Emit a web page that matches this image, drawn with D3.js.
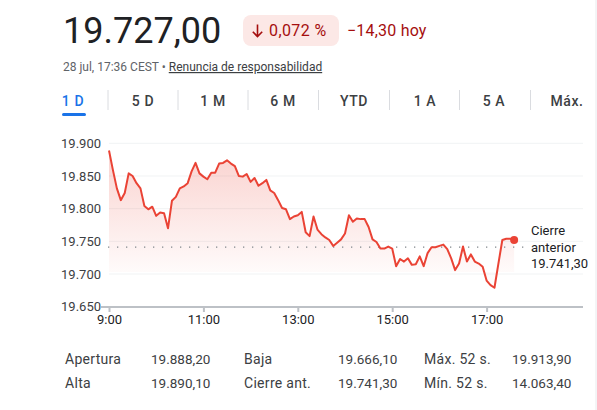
<!DOCTYPE html>
<html>
<head>
<meta charset="utf-8">
<script src="https://cdn.jsdelivr.net/npm/d3@7"></script>
<style>
	body { margin: 0; background: #fff; }
	svg { display: block; font-family: Roboto, "Noto Sans", Arial, sans-serif; }
</style>
</head>
<body>
<div id="chart"></div>
<script>
// quote header
var lastPrice = 19727.00;
var changePct = -0.072;
var changeAbs = -14.30;
var stampText = '28 jul, 17:36 CEST';
var disclaimerText = 'Renuncia de responsabilidad';

// range tabs
var tabLabels = ['1 D', '5 D', '1 M', '6 M', 'YTD', '1 A', '5 A', 'Máx.'];
var tabCenters = [73, 143, 213, 283, 354, 425, 494, 567];

// intraday series, one point every 5 minutes from 9:00
var startTime = '09:00';
var stepMinutes = 5;
var prices = [19889, 19859, 19831, 19813, 19824, 19854, 19850, 19839, 19831, 19804,
	19799, 19803, 19789, 19794, 19793, 19770, 19812, 19818, 19831, 19834,
	19839, 19857, 19870, 19854, 19849, 19845, 19855, 19855, 19869, 19870,
	19874, 19869, 19865, 19850, 19849, 19853, 19841, 19847, 19835, 19839,
	19844, 19828, 19824, 19813, 19801, 19799, 19784, 19788, 19790, 19795,
	19764, 19758, 19788, 19768, 19761, 19756, 19752, 19743, 19748, 19753,
	19762, 19790, 19780, 19785, 19784, 19784, 19772, 19753, 19749, 19739,
	19739, 19742, 19739, 19712, 19723, 19719, 19724, 19714, 19715, 19727,
	19712, 19732, 19741, 19741, 19743, 19745, 19738, 19724, 19706, 19716,
	19742, 19719, 19730, 19719, 19716, 19711, 19690, 19683, 19679, 19716,
	19752, 19754, 19754, 19752];
var prevClose = 19741.30;

// axes
var yTicks = [19650, 19700, 19750, 19800, 19850, 19900];
var xTickLabels = ['09:00', '11:00', '13:00', '15:00', '17:00'];
var xDomain = ['09:00', '19:00'];

// stats table
var statLabels = [['Apertura', 'Alta'], ['Baja', 'Cierre ant.'], ['Máx. 52 s.', 'Mín. 52 s.']];
var statValues = [[19888.20, 19890.10], [19666.10, 19741.30], [19913.90, 14063.40]];

var es = d3.formatLocale({decimal: ',', thousands: '.', grouping: [3], currency: ['', ' €']});
var fmtInt = es.format(',.0f');
var fmt2 = es.format(',.2f');
var fmt3 = es.format('.3f');
var parseT = d3.timeParse('%H:%M');

var W = 597, H = 410;
var svg = d3.select('#chart').append('svg')
	.attr('width', W)
	.attr('height', H);

// header
svg.append('text')
	.attr('x', 63).attr('y', 43)
	.attr('font-size', '36px')
	.attr('fill', '#202124')
	.text(fmt2(lastPrice));

svg.append('rect')
	.attr('x', 243).attr('y', 15)
	.attr('width', 96).attr('height', 31)
	.attr('rx', 8)
	.attr('fill', '#fce8e6');

// down arrow icon
svg.append('path')
	.attr('d', 'M257.5,24.5 V36.5 M252.8,31.8 L257.5,36.5 L262.2,31.8')
	.attr('fill', 'none')
	.attr('stroke', '#a50e0e')
	.attr('stroke-width', 1.6);

svg.append('text')
	.attr('x', 269).attr('y', 36)
	.attr('font-size', '16px')
	.attr('letter-spacing', '0.4px')
	.attr('fill', '#a50e0e')
	.text(fmt3(Math.abs(changePct)) + ' %');

svg.append('text')
	.attr('x', 347).attr('y', 36)
	.attr('font-size', '16px')
	.attr('letter-spacing', '0.2px')
	.attr('fill', '#a50e0e')
	.text('\u2212' + fmt2(Math.abs(changeAbs)) + ' hoy');

var stamp = svg.append('text')
	.attr('x', 63).attr('y', 71)
	.attr('font-size', '12px')
	.attr('fill', '#5f6368');
stamp.append('tspan').text(stampText + ' \u2022 ');
stamp.append('tspan')
	.attr('fill', '#3c4043')
	.attr('text-decoration', 'underline')
	.text(disclaimerText);

// tabs
svg.selectAll('.tab')
	.data(tabLabels)
	.enter()
	.append('text')
	.attr('class', 'tab')
	.attr('x', function (d, i) { return tabCenters[i]; })
	.attr('y', 106)
	.attr('text-anchor', 'middle')
	.attr('font-size', '14px')
	.attr('font-weight', '500')
	.attr('letter-spacing', '0.6px')
	.attr('fill', function (d, i) { return i === 0 ? '#1a73e8' : '#3c4043'; })
	.text(function (d) { return d; });

svg.selectAll('.divider')
	.data(tabCenters.slice(1))
	.enter()
	.append('line')
	.attr('x1', function (d, i) { return (tabCenters[i] + d) / 2; })
	.attr('x2', function (d, i) { return (tabCenters[i] + d) / 2; })
	.attr('y1', 90).attr('y2', 110)
	.attr('stroke', '#dadce0')
	.attr('stroke-width', 1);

svg.append('rect')
	.attr('x', 62).attr('y', 113)
	.attr('width', 24).attr('height', 3)
	.attr('rx', 1.5)
	.attr('fill', '#1a73e8');

// chart scales
var x = d3.scaleTime()
	.domain(xDomain.map(parseT))
	.range([109, 581]);
var y = d3.scaleLinear()
	.domain([19650, 19900])
	.range([306.7, 143.3]);

var t0 = parseT(startTime);
var series = prices.map(function (v, i) {
	return {t: d3.timeMinute.offset(t0, i * stepMinutes), v: v};
});

// gridlines
svg.append('g')
	.selectAll('line')
	.data(yTicks.slice(1))
	.enter()
	.append('line')
	.attr('x1', 109).attr('x2', 583)
	.attr('y1', function (d) { return y(d); })
	.attr('y2', function (d) { return y(d); })
	.attr('stroke', '#f1f3f4')
	.attr('stroke-width', 1);

// y labels
var yAxis = svg.append('g')
	.attr('transform', 'translate(101,0)')
	.call(d3.axisLeft(y).tickValues(yTicks).tickSize(0).tickPadding(0).tickFormat(fmtInt));
yAxis.select('.domain').remove();
yAxis.selectAll('text')
	.attr('font-family', 'Roboto, sans-serif')
	.attr('font-size', '13px')
	.attr('fill', '#3c4043');

// area gradient
var grad = svg.append('defs').append('linearGradient')
	.attr('id', 'fillGrad')
	.attr('gradientUnits', 'userSpaceOnUse')
	.attr('x1', 0).attr('x2', 0)
	.attr('y1', y(19900)).attr('y2', y(19700));
grad.append('stop').attr('offset', '0%').attr('stop-color', '#ea4335').attr('stop-opacity', 0.25);
grad.append('stop').attr('offset', '100%').attr('stop-color', '#ea4335').attr('stop-opacity', 0.02);

var area = d3.area()
	.x(function (d) { return x(d.t); })
	.y0(y(19700) - 2)
	.y1(function (d) { return y(d.v); });

svg.append('path')
	.attr('d', area(series))
	.attr('fill', 'url(#fillGrad)');

// previous close reference
svg.append('line')
	.attr('x1', 108).attr('x2', 524)
	.attr('y1', y(prevClose)).attr('y2', y(prevClose))
	.attr('stroke', '#80868b')
	.attr('stroke-width', 1.3)
	.attr('stroke-dasharray', '1.3,7.7');

var line = d3.line()
	.x(function (d) { return x(d.t); })
	.y(function (d) { return y(d.v); });

svg.append('path')
	.attr('d', line(series))
	.attr('fill', 'none')
	.attr('stroke', '#ea4335')
	.attr('stroke-width', 2)
	.attr('stroke-linejoin', 'round');

var last = series[series.length - 1];
svg.append('circle')
	.attr('cx', x(last.t))
	.attr('cy', y(last.v))
	.attr('r', 4)
	.attr('fill', '#ea4335');

var prevLabel = svg.append('text')
	.attr('x', 531)
	.attr('font-size', '13px')
	.attr('fill', '#202124');
['Cierre', 'anterior', fmt2(prevClose)].forEach(function (s, i) {
	prevLabel.append('tspan')
		.attr('x', 531)
		.attr('y', 235 + i * 16.5)
		.text(s);
});

// x axis
var xAxis = svg.append('g')
	.attr('transform', 'translate(0,307)')
	.call(d3.axisBottom(x)
		.tickValues(xTickLabels.map(parseT))
		.tickSize(5)
		.tickPadding(3)
		.tickFormat(d3.timeFormat('%-H:%M')));
xAxis.select('.domain').remove();
xAxis.selectAll('line').attr('stroke', '#bdc1c6').attr('stroke-width', 2);
xAxis.selectAll('text')
	.attr('font-family', 'Roboto, sans-serif')
	.attr('font-size', '13px')
	.attr('fill', '#202124');
svg.append('line')
	.attr('x1', 101).attr('x2', 583)
	.attr('y1', 307).attr('y2', 307)
	.attr('stroke', '#bdc1c6')
	.attr('stroke-width', 2);

// stats table
var colLabelX = [65, 244, 424];
var colValueX = [151, 338, 512];
statLabels.forEach(function (col, c) {
	col.forEach(function (lab, r) {
		svg.append('text')
			.attr('x', colLabelX[c])
			.attr('y', 364 + r * 24)
			.attr('font-size', '14px')
			.attr('letter-spacing', '0.3px')
			.attr('fill', '#3c4043')
			.text(lab);
		svg.append('text')
			.attr('x', colValueX[c])
			.attr('y', 364 + r * 24)
			.attr('font-size', '13.5px')
			.attr('fill', '#3c4043')
			.text(fmt2(statValues[c][r]));
	});
});

svg.append('line')
	.attr('x1', 596).attr('x2', 596)
	.attr('y1', 0).attr('y2', H)
	.attr('stroke', '#e8eaed');
</script>
</body>
</html>
